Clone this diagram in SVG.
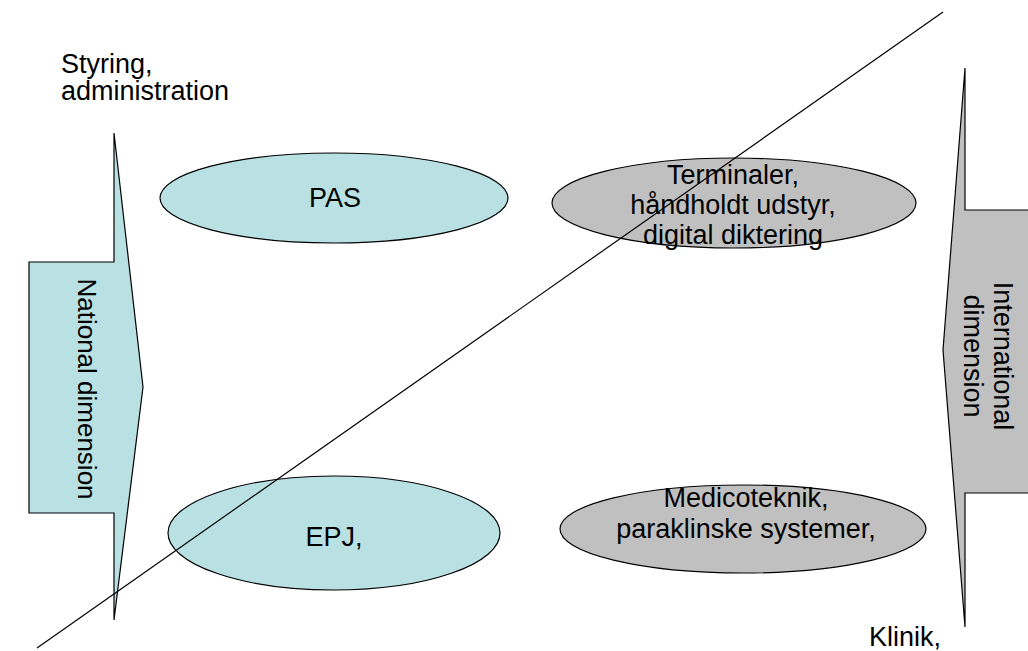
<svg xmlns="http://www.w3.org/2000/svg" width="1028" height="651" viewBox="0 0 1028 651">
<style>
.t{font-family:"Liberation Sans",Arial,sans-serif;font-size:27px;fill:#000}
.v{font-size:26px}
.c{text-anchor:middle}
.blue{fill:#B9E0E3;stroke:#000;stroke-width:1.2}
.gray{fill:#C0C0C0;stroke:#000;stroke-width:1.2}
</style>
<rect width="1028" height="651" fill="#fff"/>
<g id="national">
<polygon class="blue" points="114,133 143,387 114,620 114,513 29,513 29,262 114,262"/>
<text class="t v c" transform="translate(78,389) rotate(90)">National dimension</text>
</g>
<g id="international">
<polygon class="gray" points="965,68 943,350 965,627 965,493 1030,493 1030,210 965,210"/>
<text class="t c" transform="translate(994,356) rotate(90)">International</text>
<text class="t c" transform="translate(964,356) rotate(90)">dimension</text>
</g>
<g id="pas">
<ellipse class="blue" cx="334" cy="198" rx="174" ry="45"/>
<text class="t c" x="335" y="207">PAS</text>
</g>
<g id="terminaler">
<ellipse class="gray" cx="734" cy="203" rx="182" ry="45"/>
<text class="t c" x="733" y="184">Terminaler,</text>
<text class="t c" x="733" y="214">håndholdt udstyr,</text>
<text class="t c" x="733" y="244">digital diktering</text>
</g>
<g id="epj">
<ellipse class="blue" cx="334" cy="533" rx="166" ry="57"/>
<text class="t c" x="334" y="546">EPJ,</text>
</g>
<g id="medicoteknik">
<ellipse class="gray" cx="743" cy="529" rx="183" ry="44"/>
<text class="t c" x="746" y="507">Medicoteknik,</text>
<text class="t c" x="746" y="538">paraklinske systemer,</text>
</g>
<g id="labels">
<text class="t" x="61" y="73">Styring,</text>
<text class="t" x="61" y="100">administration</text>
<text class="t" x="869" y="646">Klinik,</text>
</g>
<g id="connectors">
<line x1="37" y1="648" x2="943" y2="12" stroke="#000" stroke-width="1.2"/>
</g>
</svg>
